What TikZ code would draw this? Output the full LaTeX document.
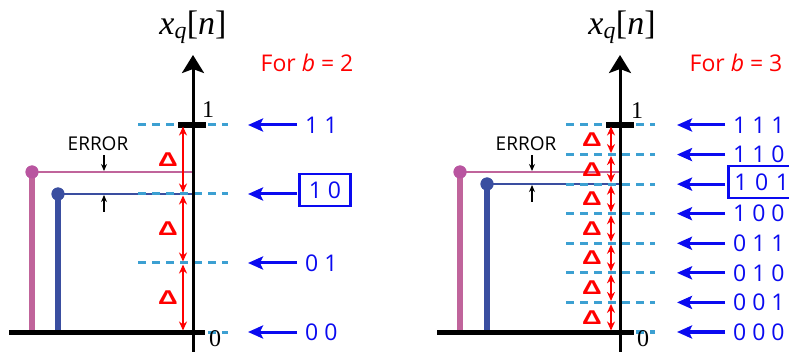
\documentclass[tikz,border=0pt]{standalone}
\usepackage{fontspec}
\setmainfont{Liberation Serif}
\newfontfamily\mysans{Open Sans}
\newfontfamily\deltafont{Liberation Sans}
\usetikzlibrary{arrows.meta}
\definecolor{pinkc}{RGB}{192,100,155}
\definecolor{pinkdot}{RGB}{185,85,160}
\definecolor{stemblue}{RGB}{58,78,160}
\definecolor{dashc}{RGB}{60,160,210}
\definecolor{labblue}{RGB}{10,10,240}
\tikzset{
  axisline/.style={line width=3pt, -{Stealth[length=18pt,width=22pt,inset=4pt]}},
  levelline/.style={dashc, line width=3pt, dash pattern=on 8pt off 6pt},
  tickbar/.style={line width=5.5pt},
  baseline/.style={line width=5pt},
  stemline/.style={line width=6pt},
  hline/.style={line width=2.7pt},
  dotnode/.style={circle, inner sep=0pt, minimum size=13pt},
  ptr/.style={labblue, line width=3pt, -{Stealth[length=15pt,width=13pt,inset=3pt]}},
  deltaarrow/.style={red, line width=2.5pt, {Stealth[length=9pt,width=8pt]}-{Stealth[length=9pt,width=8pt]}, shorten <=1.5pt, shorten >=1.5pt},
  codelabel/.style={text=labblue, font=\mysans\fontsize{23}{23}\selectfont, inner sep=0pt},
  codebox/.style={codelabel, draw=labblue, line width=2.5pt},
  deltalabel/.style={text=red, font=\deltafont\bfseries\fontsize{21}{21}\selectfont, inner sep=0pt},
  errlabel/.style={font=\mysans\fontsize{19}{19}\selectfont, inner sep=0pt},
  errarrow/.style={line width=1.5pt, -{Stealth[length=7pt,width=6pt]}},
  axlabel/.style={font=\fontsize{24}{24}\selectfont, inner sep=0pt},
  titlelabel/.style={font=\fontsize{34}{34}\selectfont, inner sep=0pt},
  forlabel/.style={text=red, font=\mysans\fontsize{23}{23}\selectfont, inner sep=0pt},
}
\newcommand{\xqn}{\textit{x}\textsubscript{\textit{q}}[\textit{n}]}
\newcommand{\dlt}{\scalebox{1.3}[0.95]{Δ}}
\begin{document}
\begin{tikzpicture}[x=1pt,y=-1pt]
\useasboundingbox (0,0) rectangle (789,352);
\clip (0,0) rectangle (789,352);

% ================= LEFT PANEL (b=2) =================
\node[dotnode, fill=pinkdot] (pdotL) at (32,172) {};
\node[dotnode, fill=stemblue] (bdotL) at (58,194) {};
\coordinate (pbaseL) at (32,332);
\coordinate (bbaseL) at (58,332);
\coordinate (pendL) at (193,172);
\coordinate (bendL) at (193,194);
\draw[stemline, pinkc] (pbaseL) -- (pdotL.center);
\draw[stemline, stemblue] (bbaseL) -- (bdotL.center);
\draw[hline, pinkc] (pdotL.center) -- (pendL);
\draw[hline, stemblue] (bdotL.center) -- (bendL);
\node[dotnode, fill=pinkdot] at (pdotL) {};
\node[dotnode, fill=stemblue] at (bdotL) {};

\foreach \y in {125,194,263,332} {
  \draw[levelline] (138,\y) -- (228,\y);
}
\coordinate (axLbot) at (193,360);
\coordinate (axLtop) at (193,55);
\draw[axisline] (axLbot) -- (axLtop);
\node[titlelabel] (titleL) at (193,27) {\xqn};
\node[forlabel] (forL) at (307,63) {For \textit{b} = 2};
\coordinate (tickLa) at (178,125);
\coordinate (tickLb) at (206,125);
\draw[tickbar] (tickLa) -- (tickLb);
\coordinate (baseLa) at (9,332);
\coordinate (baseLb) at (205,332);
\draw[baseline] (baseLa) -- (baseLb);
\node[axlabel] (oneL) at (208,110) {1};
\node[axlabel] (zeroL) at (215,339) {0};

\foreach \a/\b in {125/194,194/263,263/332} {
  \draw[deltaarrow] (183,\a) -- (183,\b);
  \node[deltalabel] at (168,{(\a+\b)/2}) {\dlt};
}

\node[errlabel] (errL) at (98,144) {ERROR};
\coordinate (eLa) at (104,155);
\coordinate (eLb) at (104,171);
\coordinate (eLc) at (104,212);
\coordinate (eLd) at (104,195);
\draw[errarrow] (eLa) -- (eLb);
\draw[errarrow] (eLc) -- (eLd);

\node[codelabel, anchor=west] (c11) at (305,125) {1 1};
\node[codebox, minimum width=51pt, minimum height=32pt] (c10) at (325,190) {1 0};
\node[codelabel, anchor=west] (c01) at (305,263) {0 1};
\node[codelabel, anchor=west] (c00) at (305,332) {0 0};
\foreach \y/\n in {125/c11,194/c10,263/c01,332/c00} {
  \coordinate (pa\n) at (297,\y);
  \coordinate (pb\n) at (248,\y);
  \draw[ptr] (pa\n) -- (pb\n);
}

% ================= RIGHT PANEL (b=3) =================
\node[dotnode, fill=pinkdot] (pdotR) at (460,172) {};
\node[dotnode, fill=stemblue] (bdotR) at (487,184) {};
\coordinate (pbaseR) at (460,332);
\coordinate (bbaseR) at (487,332);
\coordinate (pendR) at (620,172);
\coordinate (bendR) at (620,184);
\draw[stemline, pinkc] (pbaseR) -- (pdotR.center);
\draw[stemline, stemblue] (bbaseR) -- (bdotR.center);
\draw[hline, pinkc] (pdotR.center) -- (pendR);
\draw[hline, stemblue] (bdotR.center) -- (bendR);
\node[dotnode, fill=pinkdot] at (pdotR) {};
\node[dotnode, fill=stemblue] at (bdotR) {};

\foreach \k in {0,...,7} {
  \pgfmathsetmacro{\yy}{125+\k*29.5714}
  \draw[levelline] (566,\yy) -- (655,\yy);
}
\coordinate (axRbot) at (620,360);
\coordinate (axRtop) at (620,55);
\draw[axisline] (axRbot) -- (axRtop);
\node[titlelabel] (titleR) at (622,27) {\xqn};
\node[forlabel] (forR) at (736,63) {For \textit{b} = 3};
\coordinate (tickRa) at (606,125);
\coordinate (tickRb) at (634,125);
\draw[tickbar] (tickRa) -- (tickRb);
\coordinate (baseRa) at (437,332);
\coordinate (baseRb) at (634,332);
\draw[baseline] (baseRa) -- (baseRb);
\node[axlabel] (oneR) at (637,111) {1};
\node[axlabel] (zeroR) at (643,339) {0};

\foreach \k in {0,...,6} {
  \pgfmathsetmacro{\ya}{125+\k*29.5714}
  \pgfmathsetmacro{\yb}{125+(\k+1)*29.5714}
  \pgfmathsetmacro{\ym}{125+(\k+0.5)*29.5714}
  \draw[deltaarrow] (611,\ya) -- (611,\yb);
  \node[deltalabel] at (592,\ym) {\dlt};
}

\node[errlabel] (errR) at (526,144) {ERROR};
\coordinate (eRa) at (532,155);
\coordinate (eRb) at (532,171);
\coordinate (eRc) at (532,202);
\coordinate (eRd) at (532,185);
\draw[errarrow] (eRa) -- (eRb);
\draw[errarrow] (eRc) -- (eRd);

\node[codelabel, anchor=west] (r111) at (733,125) {1 1 1};
\node[codelabel, anchor=west] (r110) at (733,154.6) {1 1 0};
\node[codebox, anchor=west, inner xsep=6pt, text width=64pt, minimum height=32pt] (r101) at (727,182) {1 0 1};
\node[codelabel, anchor=west] (r100) at (733,213.7) {1 0 0};
\node[codelabel, anchor=west] (r011) at (733,243.3) {0 1 1};
\node[codelabel, anchor=west] (r010) at (733,272.9) {0 1 0};
\node[codelabel, anchor=west] (r001) at (733,302.4) {0 0 1};
\node[codelabel, anchor=west] (r000) at (733,332) {0 0 0};
\foreach \k in {0,...,7} {
  \pgfmathsetmacro{\yy}{125+\k*29.5714}
  \coordinate (qa\k) at (725,\yy);
  \coordinate (qb\k) at (677,\yy);
  \draw[ptr] (qa\k) -- (qb\k);
}
\end{tikzpicture}
\end{document}
